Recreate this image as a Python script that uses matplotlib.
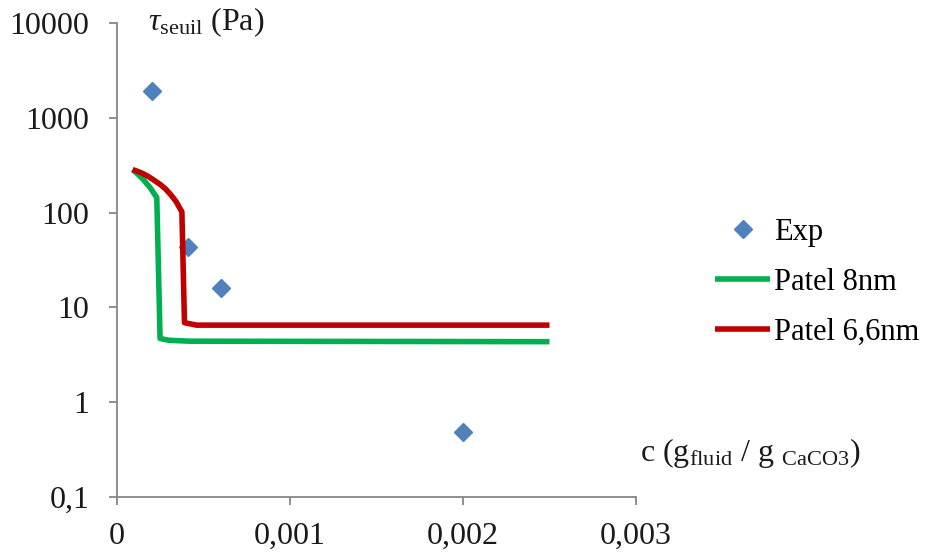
import matplotlib
matplotlib.use("Agg")
import matplotlib.pyplot as plt
from matplotlib.ticker import FixedLocator, FixedFormatter, NullLocator

plt.rcParams['font.family'] = ['Liberation Serif', 'DejaVu Serif']
plt.rcParams['mathtext.fontset'] = 'custom'
plt.rcParams['mathtext.rm'] = 'Liberation Serif'
plt.rcParams['mathtext.it'] = 'Liberation Serif:italic'

# Data
exp_x = [0.0002, 0.00041, 0.0006, 0.002]
exp_y = [1900, 43, 16, 0.48]

green_x = [0.00009, 0.00012, 0.00015, 0.00019, 0.00023, 0.000249, 0.00030, 0.00042, 0.0025]
green_y = [284, 255, 225, 185, 144, 4.7, 4.5, 4.4, 4.35]

red_x = [0.00009, 0.00012, 0.00015, 0.00018, 0.00021, 0.00025, 0.00028, 0.00031, 0.00034,
         0.000375, 0.00039, 0.00046, 0.0025]
red_y = [284, 272, 258, 241, 222, 198, 178, 155, 132, 102, 6.9, 6.5, 6.5]

xticks = [0, 0.001, 0.002, 0.003]
xticklabels = ['0', '0,001', '0,002', '0,003']
yticks = [0.1, 1, 10, 100, 1000, 10000]
yticklabels = ['0,1', '1', '10', '100', '1000', '10000']

fig = plt.figure(figsize=(9.26, 5.53), dpi=100)
ax = fig.add_axes([117/926, 1-497/553, (636-117)/926, (497-23)/553])

l1, = ax.plot(exp_x, exp_y, linestyle='none', marker='D', markersize=9,
              color='#4F81BD', label='Exp')
l2, = ax.plot(green_x, green_y, color='#00B050', lw=4, solid_joinstyle='round',
              solid_capstyle='butt', label='Patel 8nm')
l3, = ax.plot(red_x, red_y, color='#C00000', lw=4, solid_joinstyle='round',
              solid_capstyle='butt', label='Patel 6,6nm')

ax.set_yscale('log')
ax.set_xlim(0, 0.003)
ax.set_ylim(0.1, 10000)
ax.xaxis.set_major_locator(FixedLocator(xticks))
ax.xaxis.set_major_formatter(FixedFormatter(xticklabels))
ax.yaxis.set_major_locator(FixedLocator(yticks))
ax.yaxis.set_major_formatter(FixedFormatter(yticklabels))
ax.yaxis.set_minor_locator(NullLocator())

for s in ['top', 'right']:
    ax.spines[s].set_visible(False)
for s in ['left', 'bottom']:
    ax.spines[s].set_color('#868686')
    ax.spines[s].set_linewidth(1.3)
ax.tick_params(axis='both', which='major', direction='out', length=6, width=1.3,
               color='#868686', labelsize=23, labelcolor='#1a1a1a')
ax.tick_params(axis='y', pad=14)
ax.tick_params(axis='x', pad=12)

fig.text(148/926, 1-22/553, r'$\tau_{\mathrm{seuil}}$ (Pa)', fontsize=23,
         ha='left', va='center', color='#1a1a1a')
fig.text(640/926, 1-453/553, r'c ($\mathrm{g_{fluid}}$ / g $\mathrm{_{CaCO3}}$)', fontsize=23,
         ha='left', va='center', color='#1a1a1a')

leg = fig.legend(handles=[l1, l2, l3], loc='upper left',
                 bbox_to_anchor=(715/926, 1-218/553), frameon=False,
                 fontsize=22, handlelength=1.8, handletextpad=0.12,
                 labelspacing=0.68, borderaxespad=0, borderpad=0)

fig.savefig('out.png', dpi=100)
